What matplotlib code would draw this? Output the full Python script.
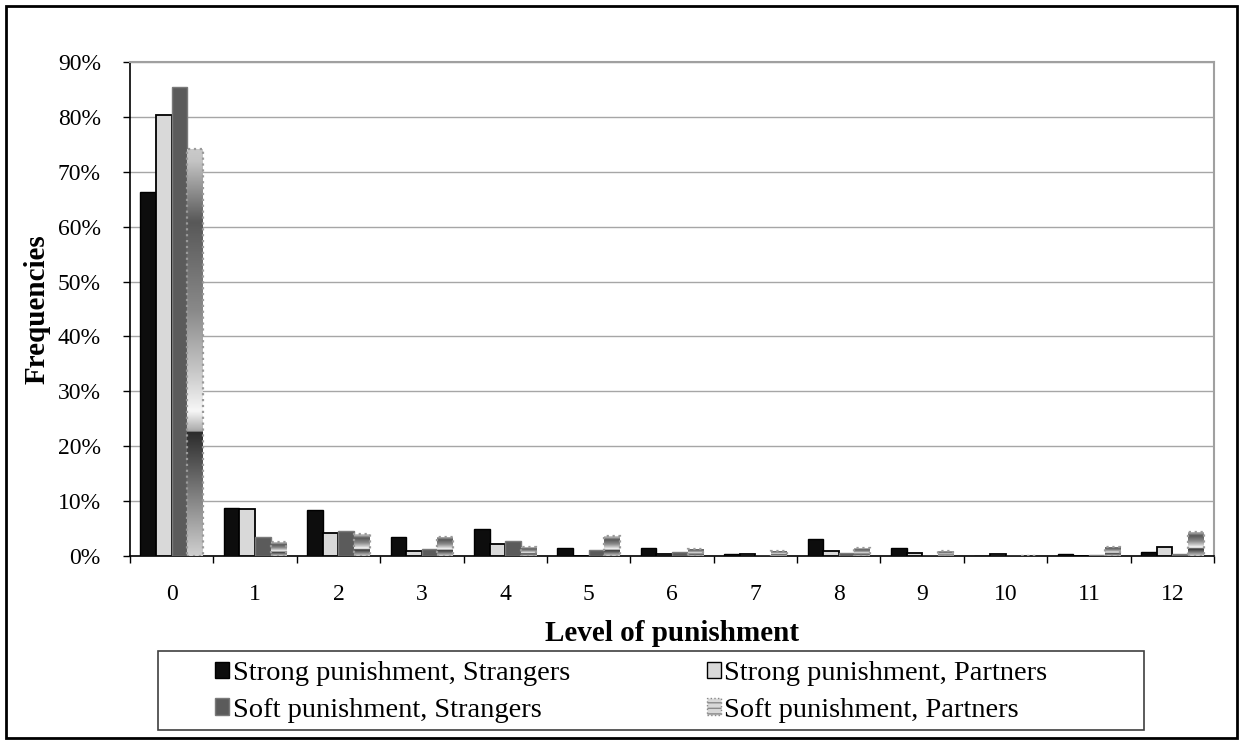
import numpy as np
import matplotlib
matplotlib.use("Agg")
import matplotlib.pyplot as plt
from matplotlib.colors import LinearSegmentedColormap
from matplotlib.patches import Rectangle, Patch
from matplotlib.ticker import FixedLocator, FuncFormatter

plt.rcParams['font.family'] = ['Liberation Serif', 'DejaVu Serif']

# level of punishment (x categories)
levels = list(range(13))
# frequencies in %
strong_strangers = [66.4, 8.7, 8.3, 3.5, 5.0, 1.5, 1.4, 0.35, 3.1, 1.45, 0.0, 0.3, 0.8]
strong_partners = [80.3, 8.5, 4.2, 0.9, 2.1, 0.0, 0.3, 0.3, 0.9, 0.55, 0.3, 0.0, 1.7]
soft_strangers = [85.4, 3.5, 4.6, 1.2, 2.7, 1.1, 0.7, 0.0, 0.6, 0.0, 0.0, 0.2, 0.4]
soft_partners = [74.2, 2.5, 4.0, 3.5, 1.6, 3.6, 1.3, 1.0, 1.45, 0.9, 0.0, 1.7, 4.4]
labels = ['Strong punishment, Strangers', 'Strong punishment, Partners',
          'Soft punishment, Strangers', 'Soft punishment, Partners']

# gradient used by Excel for the last series (bottom -> top)
grad = LinearSegmentedColormap.from_list('xl', [
    (0.0, '#cfcfcf'), (0.302, '#2c2c2c'), (0.306, '#a9a9a9'), (0.355, '#f7f7f7'),
    (0.44, '#cdcdcd'), (0.60, '#8a8a8a'), (0.82, '#585858'), (0.97, '#c4c4c4'),
    (1.0, '#cacaca')])

fig = plt.figure(figsize=(12.42, 7.44), dpi=100)
ax = fig.add_axes([130/1242, 1-556/744, 1084/1242, 494/744])

x = np.arange(len(levels))
w = 0.1875
ax.bar(x - 1.5*w, strong_strangers, w, color='#0d0d0d', edgecolor='black', lw=1, zorder=3)
ax.bar(x - 0.5*w, strong_partners, w, color='#d9d9d9', edgecolor='black', lw=1.3, zorder=3)
ax.bar(x + 0.5*w, soft_strangers, w, color='#5b5b5b', edgecolor='#7a7a7a', lw=1, zorder=3)
bars4 = ax.bar(x + 1.5*w, soft_partners, w, color='none', edgecolor='#9a9a9a',
               lw=1.6, ls=':', zorder=4)
g = np.linspace(0, 1, 256).reshape(-1, 1)
for b in bars4:
    if b.get_height() <= 0:
        continue
    bx, by = b.get_x(), b.get_y()
    im = ax.imshow(g, cmap=grad, origin='lower', aspect='auto', interpolation='bilinear',
                   extent=[bx, bx + b.get_width(), by, by + b.get_height()], zorder=3)
    im.set_clip_path(b)

ax.set_xlim(-0.5, 12.5)
ax.set_ylim(0, 90)
ax.set_aspect('auto')
ax.yaxis.set_major_locator(FixedLocator(np.arange(0, 91, 10)))
ax.yaxis.set_major_formatter(FuncFormatter(lambda v, p: '%d%%' % v))
ax.grid(axis='y', color='#a6a6a6', lw=1, zorder=0)
ax.set_axisbelow(True)

ax.xaxis.set_major_locator(FixedLocator(np.arange(-0.5, 13, 1)))
ax.xaxis.set_major_formatter(FuncFormatter(lambda v, p: ''))
ax.xaxis.set_minor_locator(FixedLocator(x))
ax.xaxis.set_minor_formatter(FuncFormatter(lambda v, p: '%d' % round(v)))
ax.tick_params(axis='x', which='major', length=5, width=1, direction='out')
ax.tick_params(axis='x', which='minor', length=0, pad=20, labelsize=17)
ax.tick_params(axis='y', length=5, width=1, direction='out', pad=16, labelsize=17)

for s in ['top', 'right']:
    ax.spines[s].set_color('#a0a0a0')
    ax.spines[s].set_linewidth(1.5)
for s in ['left', 'bottom']:
    ax.spines[s].set_color('black')
    ax.spines[s].set_linewidth(1.2)

ax.set_xlabel('Level of punishment', fontsize=21, fontweight='bold', labelpad=11)
ax.set_ylabel('Frequencies', fontsize=21, fontweight='bold', labelpad=5)

handles = [Patch(facecolor='#0d0d0d', edgecolor='black'),
           Patch(facecolor='#d9d9d9', edgecolor='black'),
           Patch(facecolor='#5b5b5b', edgecolor='#7a7a7a'),
           Patch(facecolor='#d8d8d8', edgecolor='#8a8a8a', hatch='---', ls=':')]
order = [0, 2, 1, 3]  # legend fills by column, reference reads by row
fig.legend([handles[i] for i in order], [labels[i] for i in order], ncol=2,
           loc='center left', bbox_to_anchor=(201/1242, 1-692/744),
           frameon=False, fontsize=20.5, handlelength=0.5, handleheight=0.5,
           handletextpad=0.12, columnspacing=4.8, labelspacing=0.4, borderpad=0)
fig.patches.append(Rectangle((158/1242, 1-730/744), 986/1242, 79/744, transform=fig.transFigure,
                             fill=False, edgecolor='#404040', lw=1.2))
fig.patches.append(Rectangle((6/1242, 6/744), 1231/1242, 732/744, transform=fig.transFigure,
                             fill=False, edgecolor='black', lw=2))

fig.savefig('out.png', dpi=100)
